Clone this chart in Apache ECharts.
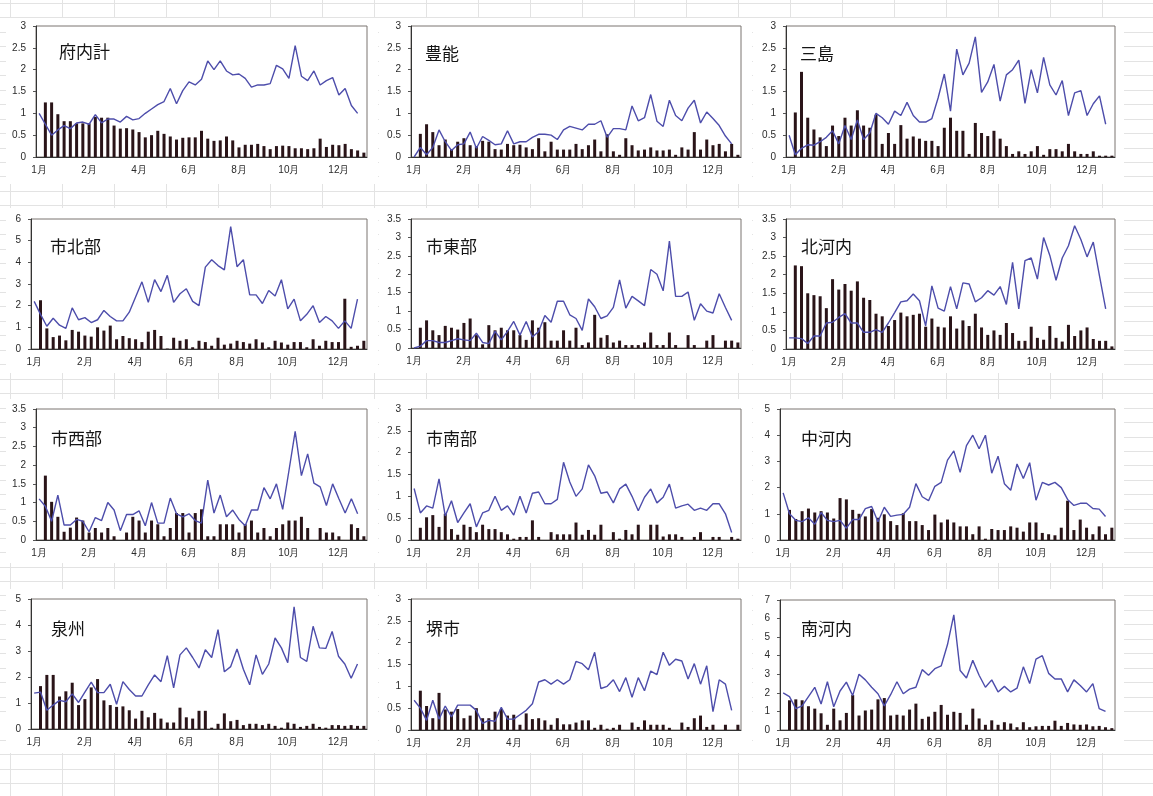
<!DOCTYPE html>
<html><head><meta charset="utf-8">
<script src="https://cdn.jsdelivr.net/npm/echarts@6/dist/echarts.min.js"></script>
<style>
html,body{margin:0;padding:0;background:#fff;}
#c{width:1153px;height:796px;
 background-color:#fff;
 background-image:
  repeating-linear-gradient(to right, transparent 0px, transparent 10px, #e3e3e3 10px, #e3e3e3 11px, transparent 11px, transparent 52px),
  repeating-linear-gradient(to bottom, transparent 0px, transparent 3px, #e3e3e3 3px, #e3e3e3 4px, transparent 4px, transparent 14.45px);}
</style>
</head><body><div id="c"></div>
<script>
// week categories (53 slots), month tick labels shown every 8 weeks
const weeks = ['1','2','3','4','5','6','7','8','9','10','11','12','13','14','15','16','17','18','19','20','21','22','23','24','25','26','27','28','29','30','31','32','33','34','35','36','37','38','39','40','41','42','43','44','45','46','47','48','49','50','51','52','53'];
const monthLabels = ['1月','2月','4月','6月','8月','10月','12月'];

const regionNames = ['府内計','豊能','三島','市北部','市東部','北河内','市西部','市南部','中河内','泉州','堺市','南河内'];
const yMax = [3,3,3,6,3.5,3.5,3.5,3,5,5,3,7];
const yStep = [0.5,0.5,0.5,1,0.5,0.5,0.5,0.5,1,1,0.5,1];

// line series (weeks 1..52)
const line_funaikei = [1.0,0.75,0.5,0.62,0.72,0.65,0.78,0.8,0.75,0.97,0.78,0.87,0.87,0.8,0.93,0.85,0.88,1.0,1.1,1.2,1.27,1.57,1.22,1.52,1.72,1.65,1.78,2.2,2.0,2.2,1.97,1.88,1.9,1.8,1.6,1.65,1.65,1.68,2.1,2.02,1.8,2.55,1.85,1.75,1.97,1.65,1.75,1.82,1.42,1.57,1.18,1.0];
const line_toyono = [0,0.22,0.05,0.22,0.62,0.35,0.15,0.28,0.3,0.57,0.2,0.47,0.38,0.28,0.3,0.6,0.3,0.35,0.35,0.45,0.52,0.52,0.5,0.4,0.62,0.7,0.66,0.62,0.75,0.75,0.83,0.45,0.65,0.65,0.62,1.17,0.83,0.9,1.43,0.82,0.7,1.3,0.95,0.83,1.12,1.3,0.78,1.03,0.88,0.72,0.48,0.3];
const line_mishima = [0.5,0.05,0.2,0.28,0.27,0.35,0.45,0.6,0.3,0.72,0.4,0.85,0.4,0.55,1.0,0.9,0.75,1.05,0.95,1.25,0.95,0.8,0.8,0.88,1.35,1.9,1.05,2.47,1.88,2.15,2.75,1.48,1.72,2.12,1.28,1.88,2.0,2.22,1.23,2.0,1.47,2.28,1.65,1.42,1.75,0.95,1.47,1.52,0.95,1.22,1.4,0.75];
const line_shihokubu = [2.2,1.6,1.05,1.42,1.1,0.95,1.9,1.35,1.45,1.22,1.35,1.78,1.5,1.3,1.3,1.7,2.4,3.1,2.15,3.2,2.65,3.4,2.15,2.55,2.78,2.2,2.0,3.78,4.12,3.85,3.65,5.65,3.8,4.12,2.5,2.5,2.1,2.7,2.45,3.2,1.85,2.3,1.3,1.6,2.0,1.22,1.5,1.3,0.95,1.3,0.95,2.3];
const line_shitobu = [0,0.05,0.2,0.2,0.15,0.15,0.2,0.25,0.22,0.2,0.4,0.15,0.12,0.45,0.22,0.45,0.72,0.35,0.72,0.3,0.45,0.88,0.7,1.27,1.27,0.9,0.8,0.48,1.33,1.12,0.8,0.87,1.1,1.85,1.08,1.4,1.28,1.15,2.13,2.0,1.55,2.9,1.4,1.4,1.52,0.75,1.2,1.0,0.95,1.47,1.1,0.75];
const line_kitakawachi = [0.3,0.3,0.28,0.15,0.35,0.35,0.7,0.72,0.85,0.95,0.7,0.7,0.45,0.45,0.52,0.45,0.7,0.98,1.27,1.3,1.48,1.3,0.62,1.7,1.1,1.02,1.68,1.08,1.78,1.75,1.27,1.38,1.57,1.45,1.68,1.2,2.33,1.08,2.38,2.45,1.88,3.0,2.52,1.85,2.45,2.78,3.32,2.95,2.48,2.88,1.97,1.08];
const line_shiseibu = [1.1,0.9,0.5,1.2,0.4,0.4,0.55,0.5,0.22,0.6,0.52,1.0,0.8,0.25,0.68,0.68,0.78,0.38,1.0,0.45,0.45,1.12,0.7,0.62,0.7,0.52,0.45,1.6,0.72,1.2,0.62,0.8,0.55,0.38,0.8,0.8,1.4,1.1,1.5,0.82,1.85,2.9,1.72,2.3,1.52,1.42,0.92,1.5,1.1,0.72,1.1,0.7];
const line_shinanbu = [1.18,0.62,0.78,0.73,1.4,0.55,0.9,0.4,0.62,0.83,0.3,0.62,0.68,1.0,0.68,0.78,0.57,1.0,0.62,1.07,1.1,0.83,0.83,0.93,1.78,1.33,1.0,1.17,1.72,1.47,1.07,1.1,0.85,1.17,1.28,1.0,0.67,0.98,1.17,0.85,0.98,1.28,0.73,0.78,0.82,0.68,0.73,0.68,0.83,0.83,0.6,0.17];
const line_nakakawachi = [1.8,1.0,0.75,0.7,0.85,0.6,1.05,0.75,0.7,0.75,0.45,0.78,0.78,1.2,1.28,0.7,1.25,0.9,0.95,0.98,1.25,2.15,1.65,1.5,2.05,2.2,3.05,3.4,2.58,3.6,4.0,3.48,4.0,2.55,3.2,2.15,1.9,2.9,2.35,2.95,1.52,2.2,2.1,2.2,2.0,1.55,1.32,1.4,1.4,1.2,1.18,0.9];
const line_senshu = [1.38,1.42,0.72,0.92,1.1,1.05,1.35,1.02,1.42,1.8,1.4,1.4,1.72,0.95,1.82,1.52,1.27,1.27,1.7,2.08,1.82,2.82,1.58,2.85,3.12,2.75,2.35,3.05,2.75,3.82,2.2,2.4,3.08,2.3,1.7,2.85,2.1,2.5,3.5,3.12,2.55,4.7,2.75,2.6,3.95,3.12,3.1,3.75,2.8,2.5,1.95,2.5];
const line_sakai = [0.68,0.5,0.22,0.68,0.25,0.55,0.3,0.57,0.57,0.57,0.45,0.15,0.22,0.2,0.52,0.25,0.25,0.35,0.45,0.6,1.1,1.15,1.05,1.15,1.05,1.15,1.57,1.52,1.38,1.78,0.95,1.0,1.15,0.88,1.2,0.75,1.2,0.9,1.35,1.27,1.78,1.48,1.62,1.58,1.17,1.52,1.05,1.47,0.42,1.15,1.05,0.45];
const line_minamikawachi = [2.0,1.8,1.15,1.3,1.8,2.3,1.4,2.6,1.25,2.1,2.58,1.85,3.0,2.7,2.3,1.95,1.3,1.9,2.6,1.95,2.2,2.3,3.25,2.95,3.3,3.45,4.6,6.2,3.2,2.8,3.75,2.95,2.3,2.7,2.05,2.35,2.05,2.25,3.4,2.5,3.82,4.0,3.05,2.75,2.75,2.05,2.7,2.4,2.05,2.5,1.15,1.0];

// bar series (weeks 2..53)
const bar_funaikei = [1.25,1.25,0.98,0.82,0.82,0.77,0.77,0.77,0.92,0.9,0.9,0.72,0.65,0.66,0.63,0.57,0.45,0.5,0.6,0.53,0.47,0.4,0.44,0.45,0.45,0.6,0.42,0.37,0.38,0.47,0.38,0.22,0.28,0.28,0.3,0.25,0.18,0.25,0.26,0.25,0.2,0.2,0.18,0.2,0.42,0.23,0.28,0.27,0.3,0.18,0.15,0.1];
const bar_toyono = [0.53,0.75,0.57,0.27,0.4,0.18,0.35,0.43,0.27,0.25,0.37,0.35,0.18,0.17,0.3,0.27,0.28,0.22,0.18,0.43,0.13,0.35,0.17,0.17,0.17,0.3,0.18,0.27,0.4,0.13,0.52,0.13,0.05,0.43,0.27,0.15,0.17,0.22,0.15,0.15,0.17,0.05,0.22,0.17,0.57,0.17,0.4,0.27,0.3,0.13,0.3,0.05];
const bar_mishima = [1.02,1.95,0.9,0.63,0.45,0.25,0.72,0.48,0.9,0.72,1.07,0.72,0.67,0.97,0.3,0.55,0.3,0.73,0.42,0.47,0.42,0.37,0.37,0.25,0.67,0.9,0.6,0.6,0.07,0.78,0.55,0.48,0.6,0.42,0.25,0.07,0.13,0.07,0.13,0.25,0.05,0.18,0.18,0.13,0.3,0.13,0.07,0.07,0.13,0.03,0.03,0.03];
const bar_shihokubu = [2.25,0.95,0.55,0.62,0.4,0.88,0.8,0.62,0.57,1.0,0.85,1.08,0.45,0.6,0.5,0.45,0.32,0.8,0.88,0.6,0.02,0.52,0.38,0.45,0.08,0.38,0.32,0.15,0.52,0.2,0.25,0.38,0.32,0.25,0.45,0.3,0.08,0.38,0.3,0.2,0.32,0.32,0.08,0.45,0.15,0.38,0.32,0.32,2.32,0.1,0.15,0.38];
const bar_shitobu = [0.55,0.75,0.48,0.35,0.6,0.55,0.5,0.68,0.8,0.35,0.1,0.62,0.48,0.55,0.48,0.48,0.35,0.22,0.75,0.55,0.7,0.2,0.2,0.48,0.2,0.55,0.08,0.15,0.9,0.28,0.35,0.15,0.2,0.08,0.08,0.08,0.15,0.42,0.08,0.08,0.42,0.08,0,0.35,0.08,0,0.2,0.35,0,0.2,0.2,0.15];
const bar_kitakawachi = [2.25,2.23,1.5,1.45,1.42,1.1,1.88,1.6,1.75,1.57,1.82,1.38,1.32,0.95,0.88,0.62,0.78,0.98,0.88,0.92,0.95,0.6,0.82,0.6,0.58,0.88,0.55,0.77,0.62,0.95,0.58,0.38,0.5,0.38,0.7,0.43,0.22,0.22,0.6,0.3,0.25,0.62,0.3,0.2,0.65,0.35,0.5,0.58,0.27,0.22,0.22,0.07];
const bar_shiseibu = [1.72,1.02,0.62,0.22,0.33,0.6,0.52,0.2,0.32,0.2,0.32,0.1,0,0.2,0.62,0.52,0.2,0.52,0.42,0.1,0.32,0.72,0.72,0.2,0.72,0.82,0.1,0.1,0.42,0.42,0.42,0.2,0.42,0.52,0.2,0.32,0.1,0.32,0.42,0.52,0.52,0.62,0.32,0,0.32,0.2,0.2,0.1,0,0.42,0.32,0.1];
const bar_shinanbu = [0.28,0.52,0.57,0.3,0.6,0.25,0.12,0.35,0.3,0.18,0.35,0.25,0.25,0.18,0.13,0.03,0.07,0.07,0.45,0.07,0,0.18,0.13,0.13,0.13,0.4,0.12,0.23,0.12,0.35,0,0.18,0.03,0.23,0.13,0.35,0,0.35,0.35,0.08,0.13,0.13,0.07,0,0.07,0.18,0,0.07,0.07,0,0.07,0.03];
const bar_nakakawachi = [1.15,0.8,1.1,1.2,1.05,1.1,1.05,0.82,1.6,1.55,1.15,1.0,0.9,1.18,0.85,0.98,0.72,0.57,1.02,0.72,0.72,0.57,0.38,0.97,0.67,0.78,0.67,0.52,0.52,0.22,0.52,0.05,0.42,0.38,0.38,0.52,0.47,0.32,0.67,0.67,0.27,0.22,0.18,0.47,1.5,0.38,0.78,0.47,0.22,0.52,0.22,0.47];
const bar_senshu = [1.65,2.08,2.08,1.25,1.45,1.78,0.92,1.15,1.6,1.92,1.1,0.92,0.85,0.87,0.72,0.4,0.7,0.45,0.62,0.4,0.25,0.25,0.82,0.45,0.4,0.7,0.7,0.05,0.2,0.6,0.3,0.35,0.15,0.2,0.2,0.15,0.2,0.12,0.05,0.25,0.2,0.08,0.12,0.2,0.08,0.05,0.15,0.15,0.12,0.15,0.12,0.12];
const bar_sakai = [0.9,0.55,0.27,0.85,0.47,0.42,0.48,0.27,0.33,0.5,0.27,0.27,0.42,0.48,0.33,0.35,0.12,0.38,0.25,0.27,0.22,0.12,0.27,0.13,0.13,0.17,0.22,0.22,0.05,0.12,0.03,0.05,0.12,0,0.17,0.07,0.22,0.12,0.12,0.12,0.05,0,0.17,0.07,0.27,0.33,0.07,0.12,0,0.12,0,0.12];
const bar_minamikawachi = [1.6,1.65,1.6,1.28,1.15,0.9,0.28,1.15,0.52,0.92,1.88,0.78,1.05,1.1,1.65,1.72,0.78,0.82,0.78,1.1,1.42,0.6,0.72,0.98,1.35,0.82,0.98,0.92,0.28,1.15,0.62,0.28,0.52,0.28,0.42,0.35,0.15,0.42,0.15,0.2,0.22,0.22,0.5,0.22,0.38,0.3,0.28,0.3,0.2,0.22,0.15,0.1];

const lines = [line_funaikei,line_toyono,line_mishima,line_shihokubu,line_shitobu,line_kitakawachi,line_shiseibu,line_shinanbu,line_nakakawachi,line_senshu,line_sakai,line_minamikawachi];
const bars = [bar_funaikei,bar_toyono,bar_mishima,bar_shihokubu,bar_shitobu,bar_kitakawachi,bar_shiseibu,bar_shinanbu,bar_nakakawachi,bar_senshu,bar_sakai,bar_minamikawachi];

// layout
const grids = [
  [36,26,331,131],[411,26,330,131],[786,26,329,131],
  [31,219,336,130],[411,219,330,129],[786,219,329,130],
  [36,409,331,131],[411,409,330,131],[780,409,335,131],
  [31,599,336,130],[411,599,330,131],[780,600,335,130]
];
const titlePos = [[59,53],[425,55],[800,55],[50,248],[426,248],[801,248],[51,440],[426,440],[801,440],[51,630],[426,630],[801,630]];
// white chart-area boxes (spreadsheet embedded charts)
const boxCols = [[6,372],[379,373],[753,371]];
const boxRows = [[18,166],[208,165],[399,164],[589,164]];

const option = {
  animation:false,
  backgroundColor:'transparent',
  grid:[], xAxis:[], yAxis:[], series:[], graphic:[]
};
boxRows.forEach(r=>boxCols.forEach(c=>{
  option.graphic.push({type:'rect',z:-10,silent:true,shape:{x:c[0],y:r[0],width:c[1],height:r[1]},
    style:{fill:'#fff',stroke:null}});
}));
const labelFont = {fontFamily:'Liberation Sans, Arial, sans-serif', fontSize:10, color:'#2a2a2a'};
grids.forEach((g,i)=>{
  option.grid.push({left:g[0],top:g[1],width:g[2],height:g[3],show:true,borderColor:'#7a7470',borderWidth:1,backgroundColor:'#fff'});
  option.xAxis.push({type:'category',gridIndex:i,data:weeks,boundaryGap:true,
    axisLine:{show:true,lineStyle:{color:'#333',width:1}},axisTick:{show:false},
    axisLabel:Object.assign({interval:0,margin:8,formatter:(v,idx)=> (idx%8===0 && idx/8<monthLabels.length)?monthLabels[idx/8]:''},labelFont),
    splitLine:{show:false}});
  option.yAxis.push({type:'value',gridIndex:i,min:0,max:yMax[i],interval:yStep[i],
    axisLine:{show:true,lineStyle:{color:'#333',width:1}},axisTick:{show:true,length:3,lineStyle:{color:'#555'}},
    axisLabel:Object.assign({margin:10},labelFont),splitLine:{show:false}});
  option.series.push({type:'bar',xAxisIndex:i,yAxisIndex:i,data:[null].concat(bars[i]),barWidth:3,
    itemStyle:{color:'#2a1418'},z:2});
  option.series.push({type:'line',xAxisIndex:i,yAxisIndex:i,data:lines[i].concat([null]),symbol:'none',
    lineStyle:{color:'#4d4dab',width:1.4},z:3});
  option.graphic.push({type:'text',left:titlePos[i][0],top:titlePos[i][1]-10,z:10,
    style:{text:regionNames[i],font:'17px "Noto Sans CJK JP"',fill:'#151515'}});
});
const chart = echarts.init(document.getElementById('c'),null,{renderer:'canvas'});
chart.setOption(option);
</script></body></html>
